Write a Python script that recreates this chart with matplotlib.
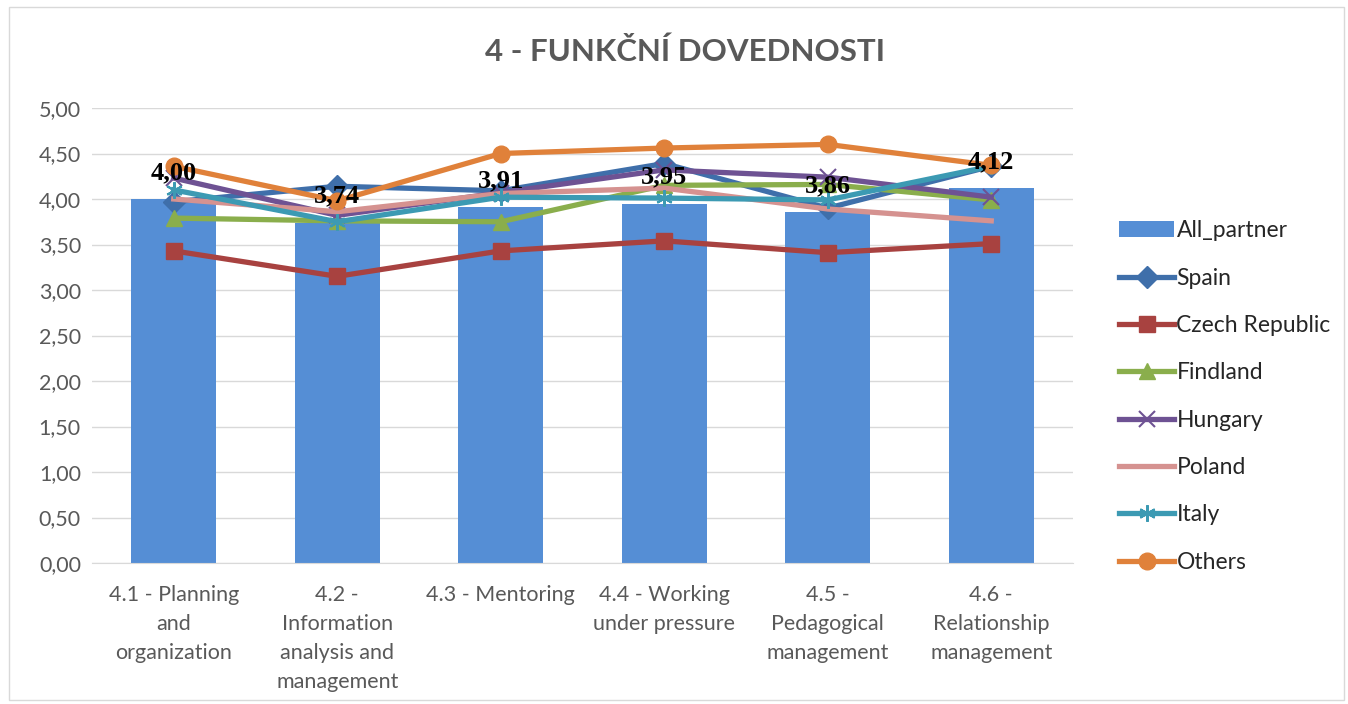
import matplotlib
matplotlib.use("Agg")
import matplotlib.pyplot as plt
from matplotlib.patches import Rectangle
import numpy as np

categories = ["4.1 - Planning\nand\norganization", "4.2 -\nInformation\nanalysis and\nmanagement",
              "4.3 - Mentoring", "4.4 - Working\nunder pressure", "4.5 -\nPedagogical\nmanagement",
              "4.6 -\nRelationship\nmanagement"]
all_partner = [4.00, 3.74, 3.91, 3.95, 3.86, 4.12]
spain = [3.97, 4.14, 4.09, 4.39, 3.90, 4.36]
czech = [3.43, 3.15, 3.43, 3.54, 3.41, 3.51]
findland = [3.79, 3.76, 3.75, 4.15, 4.16, 3.99]
hungary = [4.23, 3.82, 4.07, 4.32, 4.24, 4.02]
poland = [4.00, 3.86, 4.06, 4.12, 3.89, 3.76]
italy = [4.10, 3.75, 4.02, 4.01, 3.99, 4.36]
others = [4.36, 3.98, 4.50, 4.56, 4.60, 4.37]
yticks = [0.0, 0.5, 1.0, 1.5, 2.0, 2.5, 3.0, 3.5, 4.0, 4.5, 5.0]
title = "4 - FUNKČNÍ DOVEDNOSTI"

series = [
    ("Spain", spain, "#3F6FAA", "D", 11),
    ("Czech Republic", czech, "#A84240", "s", 12),
    ("Findland", findland, "#8AAE4C", "^", 12),
    ("Hungary", hungary, "#6E5293", "x", 12),
    ("Poland", poland, "#D59290", None, 0),
    ("Italy", italy, "#3C9AB3", "*", 12),
    ("Others", others, "#E0813A", "o", 12),
]

plt.rcParams['font.family'] = ['Lato', 'DejaVu Sans']
fig = plt.figure(figsize=(13.48, 7.04), dpi=100)
fig.patches.append(Rectangle((0.007, 0.005), 0.99, 0.985, transform=fig.transFigure,
                             fill=False, edgecolor="#D9D9D9", linewidth=1))
ax = fig.add_axes([92/1348, 1-563/704, 981/1348, 455/704])
x = np.arange(len(categories))
bars = ax.bar(x, all_partner, width=0.52, color="#558ED5", label="All_partner", zorder=2)
handles = [bars]
lw = 3.8
for name, vals, col, mk, ms in series:
    if mk == "*":
        h, = ax.plot(x, vals, color=col, lw=lw, marker=(6, 2, 0), ms=ms, mew=1.5,
                     mec=col, label=name, zorder=3)
    elif mk == "x":
        h, = ax.plot(x, vals, color=col, lw=lw, marker="x", ms=ms, mew=1.5, mec=col,
                     label=name, zorder=3)
    elif mk is None:
        h, = ax.plot(x, vals, color=col, lw=lw, label=name, zorder=3)
    else:
        h, = ax.plot(x, vals, color=col, lw=lw, marker=mk, ms=ms, mec=col, mfc=col,
                     label=name, zorder=3)
    handles.append(h)

for xi, v in zip(x, all_partner):
    ax.text(xi, v + 0.29, f"{v:.2f}".replace(".", ","), ha="center", va="center",
            fontsize=19, fontweight="bold", family="Liberation Serif", zorder=5)

ax.set_xlim(-0.5, len(categories) - 0.5)
ax.set_ylim(0, 5)
ax.set_yticks(yticks)
ax.set_yticklabels([f"{t:.2f}".replace(".", ",") for t in yticks])
ax.set_xticks(x)
ax.set_xticklabels(categories, linespacing=1.55)
ax.tick_params(axis="both", length=0, colors="#595959", labelsize=15.5)
ax.tick_params(axis="y", pad=8)
ax.tick_params(axis="x", pad=16)
ax.grid(axis="y", color="#D9D9D9", lw=1, zorder=0)
ax.set_axisbelow(True)
for s in ["top", "right", "left"]:
    ax.spines[s].set_visible(False)
ax.spines["bottom"].set_color("#D9D9D9")

fig.text(685/1348, 1-52/704, title, ha="center", va="center", fontsize=22.5,
         fontweight="bold", color="#595959")

leg = fig.legend(handles=handles, labels=[h.get_label() for h in handles],
                 loc="upper left", bbox_to_anchor=(1110/1348, 1-211/704), frameon=False,
                 fontsize=16.5, labelspacing=1.15, handlelength=2.4, handletextpad=0.1,
                 borderaxespad=0)
for t in leg.get_texts():
    t.set_color("#262626")

fig.savefig("out.png", dpi=100)
